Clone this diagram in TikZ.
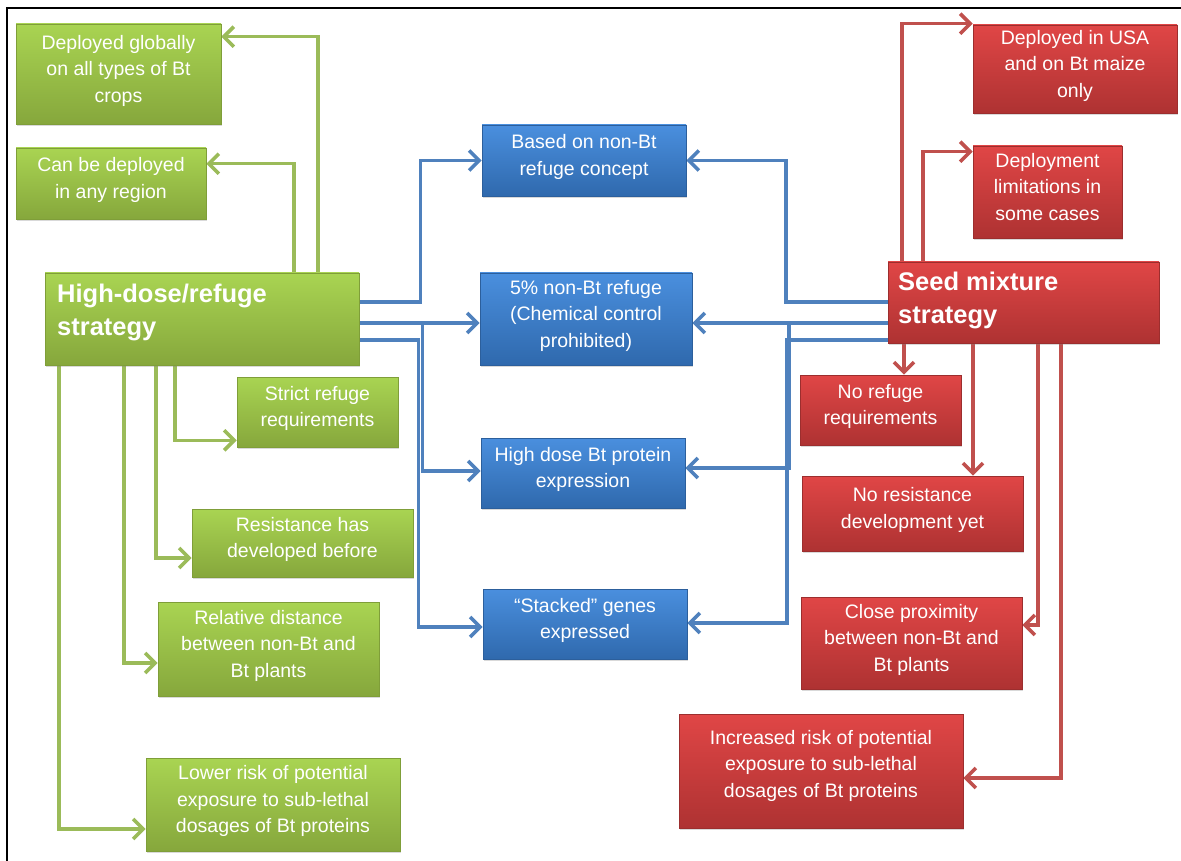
\documentclass[tikz,border=0pt]{standalone}
\usepackage{fontspec}
\setmainfont{Liberation Sans}
\usetikzlibrary{arrows.meta,shadows}
\definecolor{gline}{HTML}{9BBB59}
\definecolor{bline}{HTML}{4F81BD}
\definecolor{rline}{HTML}{C0504D}
\definecolor{gtop}{HTML}{A9D452}
\definecolor{gbot}{HTML}{86A73C}
\definecolor{gedge}{HTML}{7F9E39}
\definecolor{btop}{HTML}{4A8FDE}
\definecolor{bbot}{HTML}{2F69AD}
\definecolor{bedge}{HTML}{2C5F9C}
\definecolor{rtop}{HTML}{E04646}
\definecolor{rbot}{HTML}{AE3232}
\definecolor{redge}{HTML}{9C2E2E}
\newcommand\lowpad{\rule[-11pt]{0pt}{11pt}}
\pgfdeclarelayer{bg}
\pgfsetlayers{bg,main}
\begin{document}
\begin{tikzpicture}[x=1pt,y=-1pt,
  box/.style={rectangle, inner sep=0pt, align=center, text=white,
    font=\fontsize{19.5}{26.5}\selectfont, line width=0.6pt,
    drop shadow={shadow xshift=1.2pt,shadow yshift=-1.8pt,opacity=0.3}},
  gbox/.style={box, draw=gedge, top color=gtop, bottom color=gbot},
  bbox/.style={box, draw=bedge, top color=btop, bottom color=bbot},
  rbox/.style={box, draw=redge, top color=rtop, bottom color=rbot},
  ttl/.style={inner sep=0pt, align=left, text=white, anchor=north west,
    font=\bfseries\fontsize{25.5}{33}\selectfont},
  conn/.style={line width=3.6pt, -{Straight Barb[length=10pt,width=20pt]}},
  garr/.style={conn, draw=gline},
  barr/.style={conn, draw=bline},
  rarr/.style={conn, draw=rline}]
\useasboundingbox (0,0) rectangle (1181,861);
\draw[line width=2.6pt] (7,875) -- (7,8) -- (1190,8);

% green boxes
\node[gbox, minimum width=205pt, minimum height=100pt] (g1) at (118.5,74) {Deployed globally\\on all types of Bt\\crops\lowpad};
\node[gbox, minimum width=190pt, minimum height=71pt] (g2) at (111,183.5) {Can be deployed\\in any region\lowpad};
\node[gbox, minimum width=314pt, minimum height=92pt] (gm) at (202,319) {};
\node[ttl] (gmt) at (57,284) {High-dose/refuge\\strategy};
\node[gbox, minimum width=161pt, minimum height=70pt] (g3) at (317.5,412) {Strict refuge\\requirements\lowpad};
\node[gbox, minimum width=221pt, minimum height=68pt] (g4) at (302.5,543) {Resistance has\\developed before\lowpad};
\node[gbox, minimum width=221pt, minimum height=94pt] (g5) at (268.5,649) {Relative distance\\between non-Bt and\\Bt plants\lowpad};
\node[gbox, minimum width=254pt, minimum height=93pt] (g6) at (273,804.5) {Lower risk of potential\\exposure to sub-lethal\\dosages of Bt proteins\lowpad};

% blue boxes
\node[bbox, minimum width=204pt, minimum height=71pt] (b1) at (584,160.5) {Based on non-Bt\\refuge concept\lowpad};
\node[bbox, minimum width=212pt, minimum height=92pt] (b2) at (586,319) {5\% non-Bt refuge\\(Chemical control\\prohibited)\lowpad};
\node[bbox, minimum width=204pt, minimum height=70pt] (b3) at (583,473) {High dose Bt protein\\expression\lowpad};
\node[bbox, minimum width=204pt, minimum height=70pt] (b4) at (585,624) {“Stacked” genes\\expressed\lowpad};

% red boxes
\node[rbox, minimum width=204pt, minimum height=88pt] (r1) at (1075,69) {Deployed in USA\\and on Bt maize\\only\lowpad};
\node[rbox, minimum width=149pt, minimum height=92pt] (r2) at (1047.5,192) {Deployment\\limitations in\\some cases\lowpad};
\node[rbox, minimum width=271pt, minimum height=81pt] (rm) at (1023.5,302.5) {};
\node[ttl] (rmt) at (898,272) {Seed mixture\\strategy};
\node[rbox, minimum width=161pt, minimum height=70pt] (r3) at (880.5,410) {No refuge\\requirements\lowpad};
\node[rbox, minimum width=221pt, minimum height=75pt] (r4) at (912.5,513.5) {No resistance\\development yet\lowpad};
\node[rbox, minimum width=221pt, minimum height=92pt] (r5) at (911.5,643) {Close proximity\\between non-Bt and\\Bt plants\lowpad};
\node[rbox, minimum width=284pt, minimum height=114pt] (r6) at (821,771) {Increased risk of potential\\exposure to sub-lethal\\dosages of Bt proteins\rule[-15pt]{0pt}{15pt}};

\begin{pgfonlayer}{bg}
% green connectors
\draw[garr] ([xshift=116pt]gm.north) |- ([yshift=-13pt]g1.north east);
\draw[garr] ([xshift=92pt]gm.north) |- ([yshift=-16pt]g2.north east);
\draw[garr] ([xshift=-27pt]gm.south) |- ([yshift=7pt]g3.south west);
\draw[garr] ([xshift=-46pt]gm.south) |- ([yshift=-15pt]g4.west);
\draw[garr] ([xshift=-78pt]gm.south) |- ([yshift=-14pt]g5.west);
\draw[garr] ([xshift=-143pt]gm.south) |- ([yshift=-24.5pt]g6.west);
% blue connectors from left
\draw[barr] ([yshift=17pt]gm.east) -- ++(61,0) |- (b1.west);
\draw[barr] ([yshift=-4pt]gm.east) -- ([yshift=-4pt]b2.west);
\draw[barr] ([yshift=-4pt]gm.east) -- ++(63,0) |- ([yshift=2pt]b3.west);
\draw[barr] ([yshift=-21pt]gm.east) -- ++(59,0) |- ([yshift=-3pt]b4.west);
% blue connectors from right
\draw[barr] ([yshift=0.5pt]rm.west) -- ++(-102,0) |- (b1.east);
\draw[barr] ([yshift=-20.5pt]rm.west) -- ([yshift=-4pt]b2.east);
\draw[barr] ([yshift=-20.5pt]rm.west) -- ++(-99,0) |- ([yshift=5pt]b3.east);
\draw[barr] ([yshift=-37.5pt]rm.west) -- ++(-101,0) |- ([yshift=1pt]b4.east);
% red connectors
\draw[rarr] ([xshift=-121.5pt]rm.north) |- ([yshift=1pt]r1.north west);
\draw[rarr] ([xshift=-100.5pt]rm.north) |- ([yshift=-6pt]r2.north west);
\draw[rarr] ([xshift=-119.5pt]rm.south) -- ([xshift=23.5pt]r3.north);
\draw[rarr] ([xshift=-50.5pt]rm.south) -- ([xshift=60.5pt]r4.north);
\draw[rarr] ([xshift=14.5pt]rm.south) |- ([yshift=18pt]r5.east);
\draw[rarr] ([xshift=37.5pt]rm.south) |- ([yshift=-7pt]r6.east);
\end{pgfonlayer}
\end{tikzpicture}
\end{document}
